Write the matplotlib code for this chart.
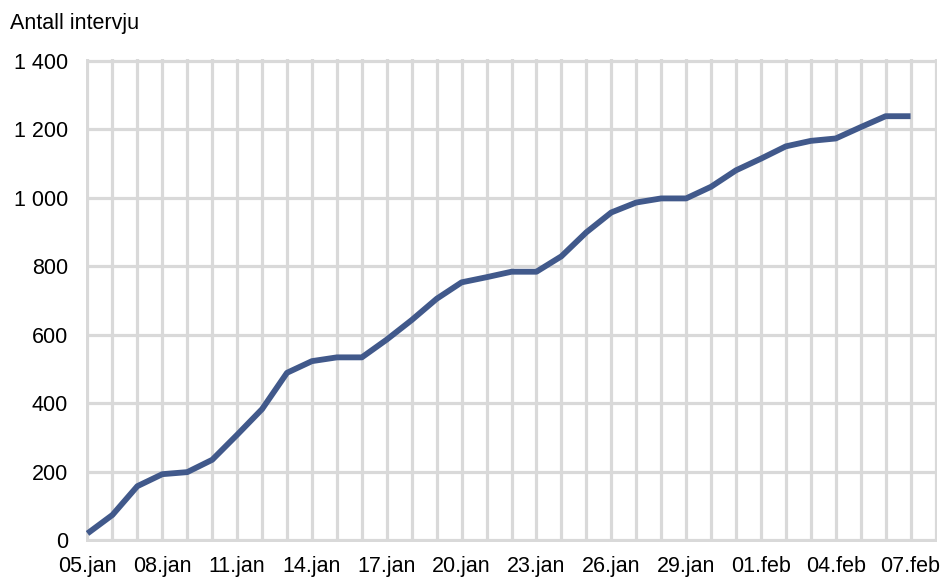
import matplotlib
matplotlib.use("Agg")
import matplotlib.pyplot as plt
from matplotlib.ticker import FuncFormatter, MultipleLocator

plt.rcParams['font.family'] = ['Liberation Sans', 'DejaVu Sans']

dates = ["05.jan", "06.jan", "07.jan", "08.jan", "09.jan", "10.jan", "11.jan", "12.jan",
         "13.jan", "14.jan", "15.jan", "16.jan", "17.jan", "18.jan", "19.jan", "20.jan",
         "21.jan", "22.jan", "23.jan", "24.jan", "25.jan", "26.jan", "27.jan", "28.jan",
         "29.jan", "30.jan", "31.jan", "01.feb", "02.feb", "03.feb", "04.feb", "05.feb",
         "06.feb", "07.feb"]
interviews = [20, 74, 158, 193, 199, 235, 308, 383, 489, 523, 534, 534, 586, 643, 705, 753,
              768, 784, 784, 829, 899, 957, 986, 998, 998, 1032, 1080, 1114, 1150, 1166,
              1173, 1206, 1238, 1238]
y_title = "Antall intervju"

fig = plt.figure(figsize=(9.46, 5.79), dpi=100)
ax = fig.add_axes([86/946, 37/579, (937-86)/946, (542-59)/579])

x = list(range(len(dates)))
ax.plot(x, interviews, color='#41598B', lw=4.2, solid_joinstyle='round',
        solid_capstyle='butt', zorder=3)

ax.set_xlim(-0.06, len(dates) + 0.06)
ax.set_ylim(-5, 1405)
ax.yaxis.set_major_locator(MultipleLocator(200))
ax.set_xticks(range(0, len(dates) + 1))
ax.set_xticklabels([d if i % 3 == 0 else "" for i, d in enumerate(dates)] + [""])
ax.yaxis.set_major_formatter(FuncFormatter(lambda v, p: f"{int(v):,}".replace(",", " ")))

ax.grid(True, color='#D9D9D9', lw=2.3, zorder=0)
ax.set_axisbelow(True)
for s in ax.spines.values():
    s.set_visible(False)
ax.tick_params(length=0, labelsize=15.5, colors='black')
ax.tick_params(axis='y', pad=13)
ax.tick_params(axis='x', pad=10)

fig.text(10/946, 1 - 23/579, y_title, fontsize=15.5, ha='left', va='center')

fig.savefig("out.png", dpi=100)
